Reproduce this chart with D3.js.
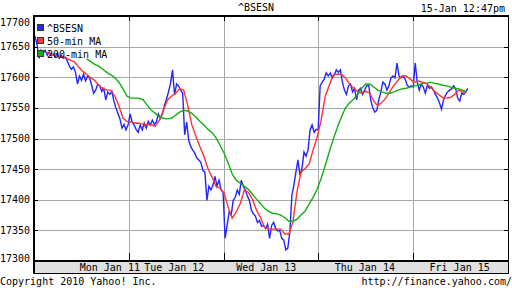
<!DOCTYPE html>
<html>
<head>
<meta charset="utf-8">
<script src="https://cdn.jsdelivr.net/npm/d3@7/dist/d3.min.js"></script>
<style>
  body { margin: 0; background: #fff; }
  svg { display: block; font-family: "DejaVu Sans Mono", monospace; }
</style>
</head>
<body>
<div id="chart"></div>
<script>
// ^BSESN intraday chart, 5 trading days, with 50-min and 200-min moving averages

const WIDTH = 512;
const HEIGHT = 288;

const title = '^BSESN';
const stamp = '15-Jan 12:47pm';
const dayLabels = ['Mon Jan 11', 'Tue Jan 12', 'Wed Jan 13', 'Thu Jan 14', 'Fri Jan 15'];
const dayLabelPos = [0.8, 1.48, 2.45, 3.49, 4.49]; // in trading days
const yTicks = [17300, 17350, 17400, 17450, 17500, 17550, 17600, 17650, 17700];
const MIN_PER_DAY = 375;
const NUM_DAYS = 5;

// index price, one reading every 8 minutes from minute 4
const BLUE_START = 4, BLUE_STEP = 8;
const bsesn = [
  17667, 17653, 17631, 17644, 17639, 17644, 17636, 17641, 17635, 17638,
  17633, 17639, 17631, 17636, 17631, 17633, 17626, 17618, 17613, 17617,
  17608, 17589, 17602, 17595, 17605, 17594, 17602, 17599, 17587, 17574,
  17579, 17589, 17586, 17577, 17582, 17563, 17576, 17572, 17577, 17561,
  17550, 17541, 17532, 17517, 17523, 17514, 17522, 17540, 17527, 17522,
  17515, 17510, 17522, 17514, 17525, 17517, 17528, 17522, 17530, 17523,
  17527, 17540, 17533, 17540, 17554, 17564, 17576, 17590, 17612, 17571,
  17589, 17586, 17579, 17574, 17506, 17527, 17497, 17487, 17481, 17476,
  17468, 17465, 17461, 17448, 17445, 17399, 17422, 17416, 17424, 17438,
  17422, 17432, 17416, 17412, 17337, 17358, 17380, 17375, 17399, 17404,
  17416, 17409, 17432, 17422, 17416, 17406, 17399, 17383, 17377, 17373,
  17363, 17366, 17357, 17358, 17353, 17360, 17337, 17358, 17363, 17353,
  17349, 17350, 17337, 17334, 17318, 17321, 17347, 17407, 17424, 17445,
  17465, 17440, 17451, 17478, 17471, 17481, 17514, 17522, 17510, 17515,
  17514, 17586, 17592, 17597, 17607, 17602, 17607, 17599, 17604, 17612,
  17608, 17612, 17592, 17579, 17572, 17586, 17589, 17576, 17582, 17563,
  17579, 17582, 17572, 17579, 17586, 17587, 17563, 17550, 17543, 17546,
  17563, 17576, 17592, 17589, 17579, 17586, 17599, 17602, 17599, 17623,
  17602, 17599, 17602, 17597, 17587, 17584, 17586, 17584, 17623, 17592,
  17579, 17589, 17584, 17574, 17587, 17582, 17584, 17579, 17572, 17566,
  17558, 17548, 17563, 17571, 17576, 17579, 17581, 17586, 17581, 17566,
  17561, 17574, 17572, 17576, 17582
];

// 50-min moving average, every 16 minutes from minute 48
const MA50_START = 48, MA50_STEP = 16;
const ma50 = [
  17641, 17639, 17636, 17635, 17633, 17631, 17628, 17625, 17617, 17610,
  17605, 17599, 17595, 17587, 17582, 17579, 17579, 17569, 17553, 17533,
  17528, 17527, 17525, 17525, 17523, 17523, 17522, 17520, 17530, 17546,
  17563, 17569, 17574, 17581, 17579, 17554, 17523, 17504, 17487, 17471,
  17451, 17437, 17422, 17419, 17411, 17388, 17370, 17380, 17394, 17416,
  17412, 17401, 17383, 17371, 17355, 17352, 17352, 17352, 17352, 17344,
  17344, 17363, 17412, 17445, 17451, 17458, 17481, 17502, 17530, 17569,
  17587, 17604, 17605, 17605, 17599, 17589, 17582, 17577, 17574, 17577,
  17574, 17561, 17553, 17559, 17566, 17577, 17587, 17595, 17602, 17602,
  17597, 17592, 17594, 17592, 17590, 17584, 17577, 17572, 17567, 17566,
  17567, 17572, 17579, 17576, 17576
];

// 200-min moving average, every 16 minutes from minute 208
const MA200_START = 208, MA200_STEP = 16;
const ma200 = [
  17630, 17626, 17621, 17618, 17613, 17608, 17604, 17599, 17592, 17581,
  17569, 17566, 17566, 17566, 17563, 17554, 17546, 17541, 17536, 17533,
  17532, 17533, 17538, 17543, 17546, 17545, 17541, 17535, 17528, 17522,
  17515, 17510, 17501, 17489, 17476, 17460, 17442, 17432, 17427, 17422,
  17417, 17409, 17401, 17394, 17386, 17381, 17378, 17377, 17375, 17371,
  17365, 17365, 17368, 17375, 17381, 17393, 17404, 17417, 17435, 17456,
  17478, 17499, 17518, 17535, 17550, 17558, 17564, 17572, 17582, 17589,
  17589, 17584, 17579, 17576, 17574, 17574, 17576, 17579, 17581, 17582,
  17584, 17586, 17587, 17590, 17590, 17592, 17590, 17589, 17587, 17586,
  17584, 17582, 17581, 17579, 17576
];

const series = [
  {name: '^BSESN', color: '#2424ff', start: BLUE_START, step: BLUE_STEP, values: bsesn},
  {name: '50-min MA', color: '#ff3434', start: MA50_START, step: MA50_STEP, values: ma50},
  {name: '200-min MA', color: '#10b010', start: MA200_START, step: MA200_STEP, values: ma200}
];

const plot = {left: 34, right: 508, top: 16, bottom: 261};

const svg = d3.select('#chart')
  .append('svg')
  .attr('width', WIDTH)
  .attr('height', HEIGHT)
  .style('font-size', '10px');

const x = d3.scaleLinear()
  .domain([0, NUM_DAYS * MIN_PER_DAY])
  .range([plot.left, plot.right]);

const y = d3.scaleLinear()
  .domain([17300, 17700])
  .range([plot.bottom, plot.top]);

// grid
const grid = svg.append('g')
  .attr('stroke', '#a8a8a8')
  .attr('stroke-width', 1)
  .attr('shape-rendering', 'crispEdges');

grid.selectAll('line.h')
  .data(yTicks.slice(1, -1))
  .join('line')
  .attr('class', 'h')
  .attr('x1', plot.left).attr('x2', plot.right)
  .attr('y1', d => Math.round(y(d)) + 0.5).attr('y2', d => Math.round(y(d)) + 0.5);

const dayBounds = d3.range(1, NUM_DAYS).map(d => d * MIN_PER_DAY);
grid.selectAll('line.v')
  .data(dayBounds)
  .join('line')
  .attr('class', 'v')
  .attr('x1', d => Math.round(x(d)) + 0.5).attr('x2', d => Math.round(x(d)) + 0.5)
  .attr('y1', plot.top).attr('y2', plot.bottom);

// price lines
const line = d3.line()
  .x((d, i, arr) => x(arr.start + i * arr.step))
  .y(d => y(d));

series.forEach(s => {
  const vals = s.values.slice();
  vals.start = s.start;
  vals.step = s.step;
  svg.append('path')
    .datum(vals)
    .attr('fill', 'none')
    .attr('stroke', s.color)
    .attr('stroke-width', 1.4)
    .attr('stroke-linejoin', 'miter')
    .attr('d', d3.line().x((d, i) => x(s.start + i * s.step)).y(d => y(d)));
});

// frame
const frame = svg.append('g')
  .attr('stroke', '#000')
  .attr('shape-rendering', 'crispEdges');

frame.append('rect')
  .attr('x', plot.left).attr('y', plot.bottom)
  .attr('width', plot.right - plot.left).attr('height', 12)
  .attr('fill', '#e0e0e0')
  .attr('stroke', 'none');

frame.append('line')
  .attr('x1', plot.left).attr('x2', plot.right + 1)
  .attr('y1', plot.top - 0.5).attr('y2', plot.top - 0.5)
  .attr('stroke-width', 2);
frame.append('line')
  .attr('x1', plot.left).attr('x2', plot.right + 1)
  .attr('y1', plot.bottom).attr('y2', plot.bottom)
  .attr('stroke-width', 2);
frame.append('line')
  .attr('x1', plot.left).attr('x2', plot.right + 1)
  .attr('y1', plot.bottom + 12.5).attr('y2', plot.bottom + 12.5);
frame.append('line')
  .attr('x1', plot.left - 0.5).attr('x2', plot.left - 0.5)
  .attr('y1', plot.top - 1).attr('y2', plot.bottom + 13)
  .attr('stroke-width', 2);
frame.append('line')
  .attr('x1', plot.right + 0.5).attr('x2', plot.right + 0.5)
  .attr('y1', plot.top - 1).attr('y2', plot.bottom + 13);

// ticks
yTicks.slice(1, -1).forEach(v => {
  const yy = Math.round(y(v)) + 0.5;
  frame.append('line').attr('x1', plot.left).attr('x2', plot.left + 4).attr('y1', yy).attr('y2', yy);
  frame.append('line').attr('x1', plot.right - 4).attr('x2', plot.right).attr('y1', yy).attr('y2', yy);
});
dayBounds.forEach(d => {
  const xx = Math.round(x(d)) + 0.5;
  frame.append('line').attr('x1', xx).attr('x2', xx).attr('y1', plot.top).attr('y2', plot.top + 5);
  frame.append('line').attr('x1', xx).attr('x2', xx).attr('y1', plot.bottom - 8).attr('y2', plot.bottom);
});

// y labels
svg.append('g')
  .selectAll('text')
  .data(yTicks)
  .join('text')
  .attr('x', plot.left - 4)
  .attr('y', d => Math.min(Math.max(y(d), 22), 258) + 3.5)
  .attr('text-anchor', 'end')
  .attr('fill', '#000')
  .text(d => d);

// day labels
svg.append('g')
  .selectAll('text')
  .data(dayLabels)
  .join('text')
  .attr('x', (d, i) => x(dayLabelPos[i] * MIN_PER_DAY))
  .attr('y', plot.bottom + 10)
  .attr('text-anchor', 'middle')
  .text(d => d);

// legend
const legend = svg.append('g');
series.forEach((s, i) => {
  const row = legend.append('g').attr('transform', `translate(37,${24 + i * 13})`);
  row.append('rect')
    .attr('x', 0.5).attr('y', 0.5)
    .attr('width', 6).attr('height', 6)
    .attr('fill', s.color)
    .attr('stroke', '#333')
    .attr('shape-rendering', 'crispEdges');
  row.append('text')
    .attr('x', 10).attr('y', 8)
    .text(s.name);
});

// title, timestamp, footer
svg.append('text').attr('x', 256).attr('y', 11).attr('text-anchor', 'middle').text(title);
svg.append('text').attr('x', 505).attr('y', 12).attr('text-anchor', 'end').text(stamp);
svg.append('text').attr('x', 0).attr('y', 285).text('Copyright 2010 Yahoo! Inc.');
svg.append('text').attr('x', 512).attr('y', 285).attr('text-anchor', 'end').text('http://finance.yahoo.com/');
</script>
</body>
</html>
